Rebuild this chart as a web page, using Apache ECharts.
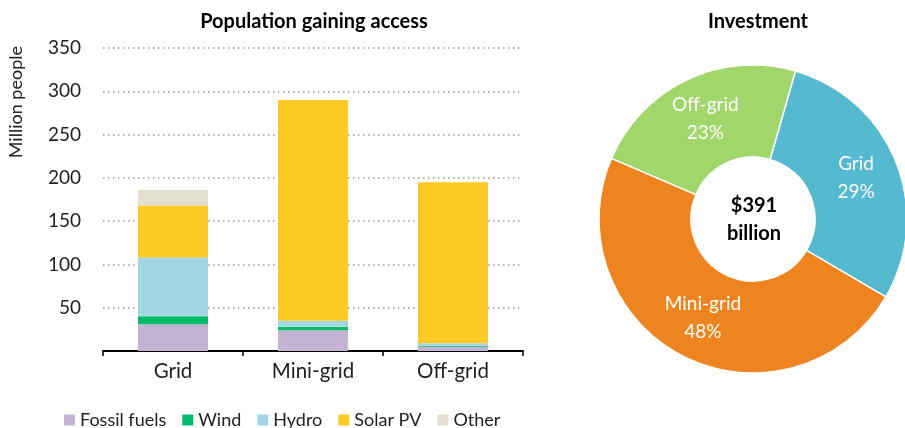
<!DOCTYPE html>
<html style="height: 100%">
<head>
    <meta charset="utf-8">
    <script type="text/javascript" src="https://cdn.jsdelivr.net/npm/echarts@6.0.0/dist/echarts.min.js"></script>
</head>
<body style="height: 100%; margin: 0; background-color: #fff;">
    <div id="main" style="width: 905px; height: 428px;"></div>
<script>
// population gaining access (million people), by technology
var categories = ['Grid', 'Mini-grid', 'Off-grid'];
var fossil = [31, 24, 5];
var wind = [9, 4, 1];
var hydro = [68, 7, 3];
var solar = [60, 255, 186];
var other = [18, 0, 0];
var yTicks = [0, 50, 100, 150, 200, 250, 300, 350];

// investment share (%), total $391 billion
var pieNames = ['Grid', 'Mini-grid', 'Off-grid'];
var pieShares = [29, 48, 23];
var totalLabel = '$391\nbillion';

var FONT = 'Lato, "Open Sans", sans-serif';
var chartDom = document.getElementById('main');
var myChart = echarts.init(chartDom);

var stackSeries = [
    { name: 'Fossil fuels', data: fossil, color: '#C3B3D2' },
    { name: 'Wind', data: wind, color: '#00BC6A' },
    { name: 'Hydro', data: hydro, color: '#A3D6E3' },
    { name: 'Solar PV', data: solar, color: '#FFCA26' },
    { name: 'Other', data: other, color: '#E2DFCF' }
].map(function (s) {
    return {
        name: s.name,
        type: 'bar',
        stack: 'pop',
        barWidth: '50%',
        data: s.data,
        itemStyle: { color: s.color },
        emphasis: { disabled: true }
    };
});

var pieColors = ['#55B9D0', '#EE841F', '#A0D66A'];

var option = {
    animation: false,
    textStyle: { fontFamily: FONT },
    title: [
        {
            text: 'Population gaining access',
            left: 309,
            top: 7,
            textAlign: 'center',
            textStyle: { fontFamily: FONT, fontSize: 20, fontWeight: 'bold', color: '#000' }
        },
        {
            text: 'Investment',
            left: 753,
            top: 7,
            textAlign: 'center',
            textStyle: { fontFamily: FONT, fontSize: 20, fontWeight: 'bold', color: '#000' }
        }
    ],
    legend: {
        data: stackSeries.map(function (s) { return s.name; }),
        left: 59,
        top: 406,
        icon: 'rect',
        itemWidth: 11,
        itemHeight: 11,
        itemGap: 16,
        textStyle: { fontFamily: FONT, fontSize: 18, color: '#222' }
    },
    grid: { left: 103, right: 382, top: 48, bottom: 77, containLabel: false },
    xAxis: {
        type: 'category',
        data: categories,
        axisLine: { lineStyle: { color: '#000', width: 2 } },
        axisTick: { show: true, length: 5, lineStyle: { color: '#000', width: 1.5 } },
        axisLabel: { fontFamily: FONT, fontSize: 20.5, color: '#222', margin: 10 }
    },
    yAxis: {
        type: 'value',
        min: yTicks[0],
        max: yTicks[yTicks.length - 1],
        interval: 50,
        axisLine: { show: false },
        axisTick: { show: false },
        axisLabel: {
            fontFamily: FONT, fontSize: 19, color: '#222', margin: 22,
            formatter: function (v) { return v === 0 ? '' : v; }
        },
        splitLine: { lineStyle: { color: '#999', width: 1.5, type: [1.5, 3.5] } }
    },
    graphic: [
        {
            type: 'text',
            left: 7,
            top: 46,
            rotation: Math.PI / 2,
            style: { text: 'Million people', font: '18px ' + FONT, fill: '#222' }
        },
        {
            type: 'text',
            x: 754,
            y: 220,
            style: {
                text: totalLabel,
                font: 'bold 20px ' + FONT,
                fill: '#000',
                align: 'center',
                verticalAlign: 'middle',
                lineHeight: 28
            }
        }
    ],
    series: stackSeries.concat([
        {
            name: 'Investment',
            type: 'pie',
            center: [753, 219],
            radius: [62, 154],
            startAngle: 74,
            clockwise: true,
            avoidLabelOverlap: false,
            itemStyle: { borderColor: '#fff', borderWidth: 1.5 },
            label: {
                position: 'inside',
                formatter: '{b}\n{c}%',
                color: '#fff',
                fontFamily: FONT,
                fontSize: 19,
                lineHeight: 28
            },
            labelLine: { show: false },
            emphasis: { disabled: true },
            data: pieNames.map(function (n, i) {
                return { name: n, value: pieShares[i], itemStyle: { color: pieColors[i] } };
            })
        }
    ])
};

myChart.setOption(option);
</script>
</body>
</html>
